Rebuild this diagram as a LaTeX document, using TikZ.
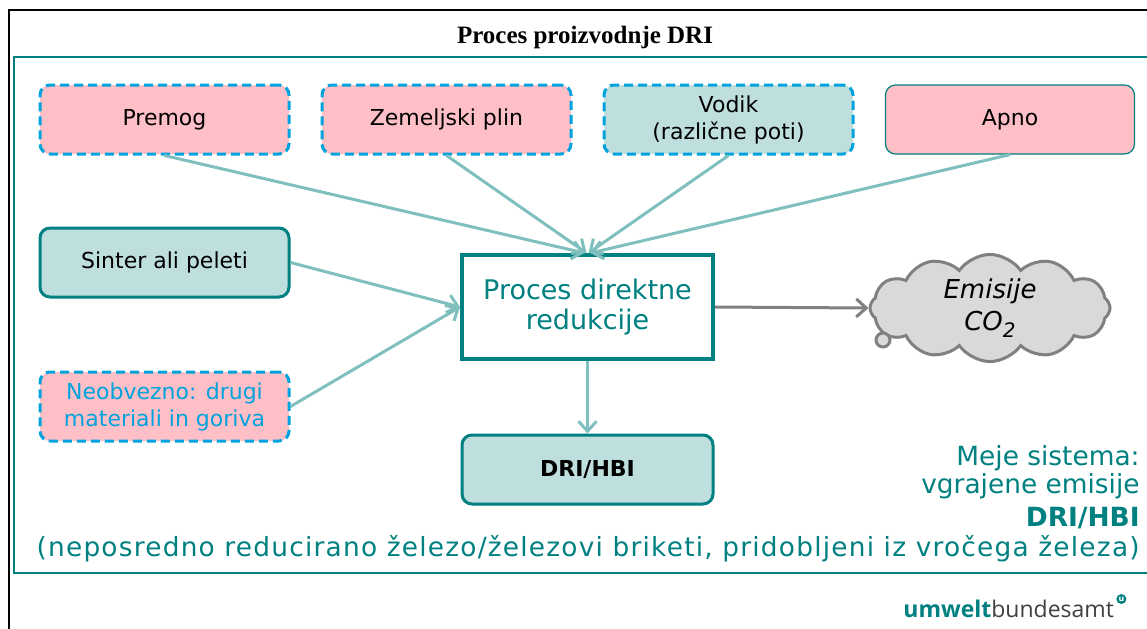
\documentclass[tikz,border=0pt]{standalone}
\usepackage{fontspec}
\setmainfont{DejaVu Sans}
\newfontfamily\titlefont{Liberation Serif}
\newfontfamily\logofont{Open Sans}
\usetikzlibrary{arrows.meta,shapes.symbols}

\definecolor{petrol}{RGB}{0,128,128}
\definecolor{svpetrol}{RGB}{127,192,190}
\definecolor{mint}{RGB}{191,223,222}
\definecolor{roza}{RGB}{255,191,199}
\definecolor{modra}{RGB}{0,163,221}
\definecolor{siva}{RGB}{128,128,128}
\definecolor{oblakfill}{RGB}{217,217,217}

\begin{document}
\begin{tikzpicture}[x=0.5pt,y=-0.5pt,
  box/.style={rounded corners=5pt, minimum width=124.5pt, minimum height=34.5pt,
    inner sep=2pt, align=center, font=\fontsize{11}{13.5}\selectfont},
  dashbox/.style={box, draw=modra, line width=1.5pt, dash pattern=on 4.5pt off 2.5pt},
  flow/.style={svpetrol, line width=1.5pt, -{Straight Barb[length=5pt,width=9pt]}},
  ]

\useasboundingbox (0,0) rectangle (1147,628);

% FRAMES
  \draw[black, line width=1.2pt] (9,640) -- (9,10) -- (1160,10);
  \draw[petrol, line width=1pt] (1160,57) -- (14,57) -- (14,573) -- (1160,573);
  \node[font=\titlefont\bfseries\fontsize{12.5}{15}\selectfont] (naslov) at (585,37) {Proces proizvodnje DRI};

% Input boxes
  \node[dashbox, fill=roza] (premog) at (164.5,119.5) {Premog};
  \node[dashbox, fill=roza] (plin)   at (446.5,119.5) {Zemeljski plin};
  \node[dashbox, fill=mint] (vodik)  at (728.5,119.5) {Vodik\\(različne poti)};
  \node[box, fill=roza, draw=petrol, line width=0.6pt] (apno) at (1010,119.5) {Apno};

  \node[box, fill=mint, draw=petrol, line width=1.5pt] (sinter) at (164.5,262.5) {Sinter ali peleti};
  \node[dashbox, fill=roza, text=modra] (drugo) at (164.5,406.5) {Neobvezno: drugi\\materiali in goriva};

% Process and product
  \node[draw=petrol, line width=2pt, fill=white, minimum width=125.5pt, minimum height=52pt,
    align=center, text=petrol, font=\fontsize{13.5}{15}\selectfont] (proc) at (587.5,307) {Proces direktne\\redukcije};
  \node[box, fill=mint, draw=petrol, line width=1.5pt, minimum width=125.5pt,
    font=\bfseries\fontsize{11}{13.5}\selectfont] (dri) at (587.5,469.5) {DRI/HBI};

% Emissions cloud
  \node[cloud, draw=siva, fill=oblakfill, line width=1.5pt, cloud puffs=12, cloud puff arc=110,
    aspect=2.5, minimum width=120pt, minimum height=47pt, inner sep=0pt, align=center,
    font=\itshape\fontsize{13}{16}\selectfont] (oblak) at (990,308)
    {Emisije\\CO\raisebox{-0.45ex}{\fontsize{10}{10}\selectfont 2}};
  \draw[siva, line width=1.5pt, fill=oblakfill] (883,340) circle (3.5pt);

% Flows
  \draw[flow] (premog.south) -- ([xshift=-1.5pt]proc.north);
  \draw[flow] (plin.south)   -- ([xshift=-0.5pt]proc.north);
  \draw[flow] (vodik.south)  -- ([xshift=0.5pt]proc.north);
  \draw[flow] (apno.south)   -- ([xshift=1.5pt]proc.north);
  \draw[flow] (sinter.east)  -- (proc.west);
  \draw[flow] (drugo.east)   -- (proc.west);
  \draw[flow] (proc.south)   -- (dri.north);
  \draw[siva, line width=1.5pt, -{Straight Barb[length=5pt,width=9pt]}] (proc.east) -- (oblak.west);

% System boundary text
  \begin{scope}[petrol, inner sep=0pt, font=\fontsize{13.2}{16}\selectfont]
  \node[anchor=base east] (meja1) at (1140,465) {Meje sistema:};
  \node[anchor=base east] (meja2) at (1140,493) {vgrajene emisije};
  \node[anchor=base east, font=\bfseries\fontsize{13.2}{16}\selectfont] (meja3) at (1140,526) {DRI/HBI};
  \node[anchor=base east, font=\addfontfeature{LetterSpace=4.6}\fontsize{13.2}{16}\selectfont] (meja4) at (1140,556)
    {(neposredno reducirano železo/železovi briketi, pridobljeni iz vročega železa)};
  \end{scope}

% Logo
  \node[anchor=base west, inner sep=0pt, font=\logofont\fontsize{11.5}{13}\selectfont] (logo) at (903,617)
    {\textcolor{petrol}{\bfseries umwelt}\textcolor{darkgray}{bundesamt}};
  \node[circle, fill=petrol, inner sep=0pt, minimum size=5pt, text=white,
    font=\bfseries\fontsize{4}{4}\selectfont] (logou) at ([xshift=3.5pt,yshift=9pt]logo.base east) {u};
\end{tikzpicture}
\end{document}
